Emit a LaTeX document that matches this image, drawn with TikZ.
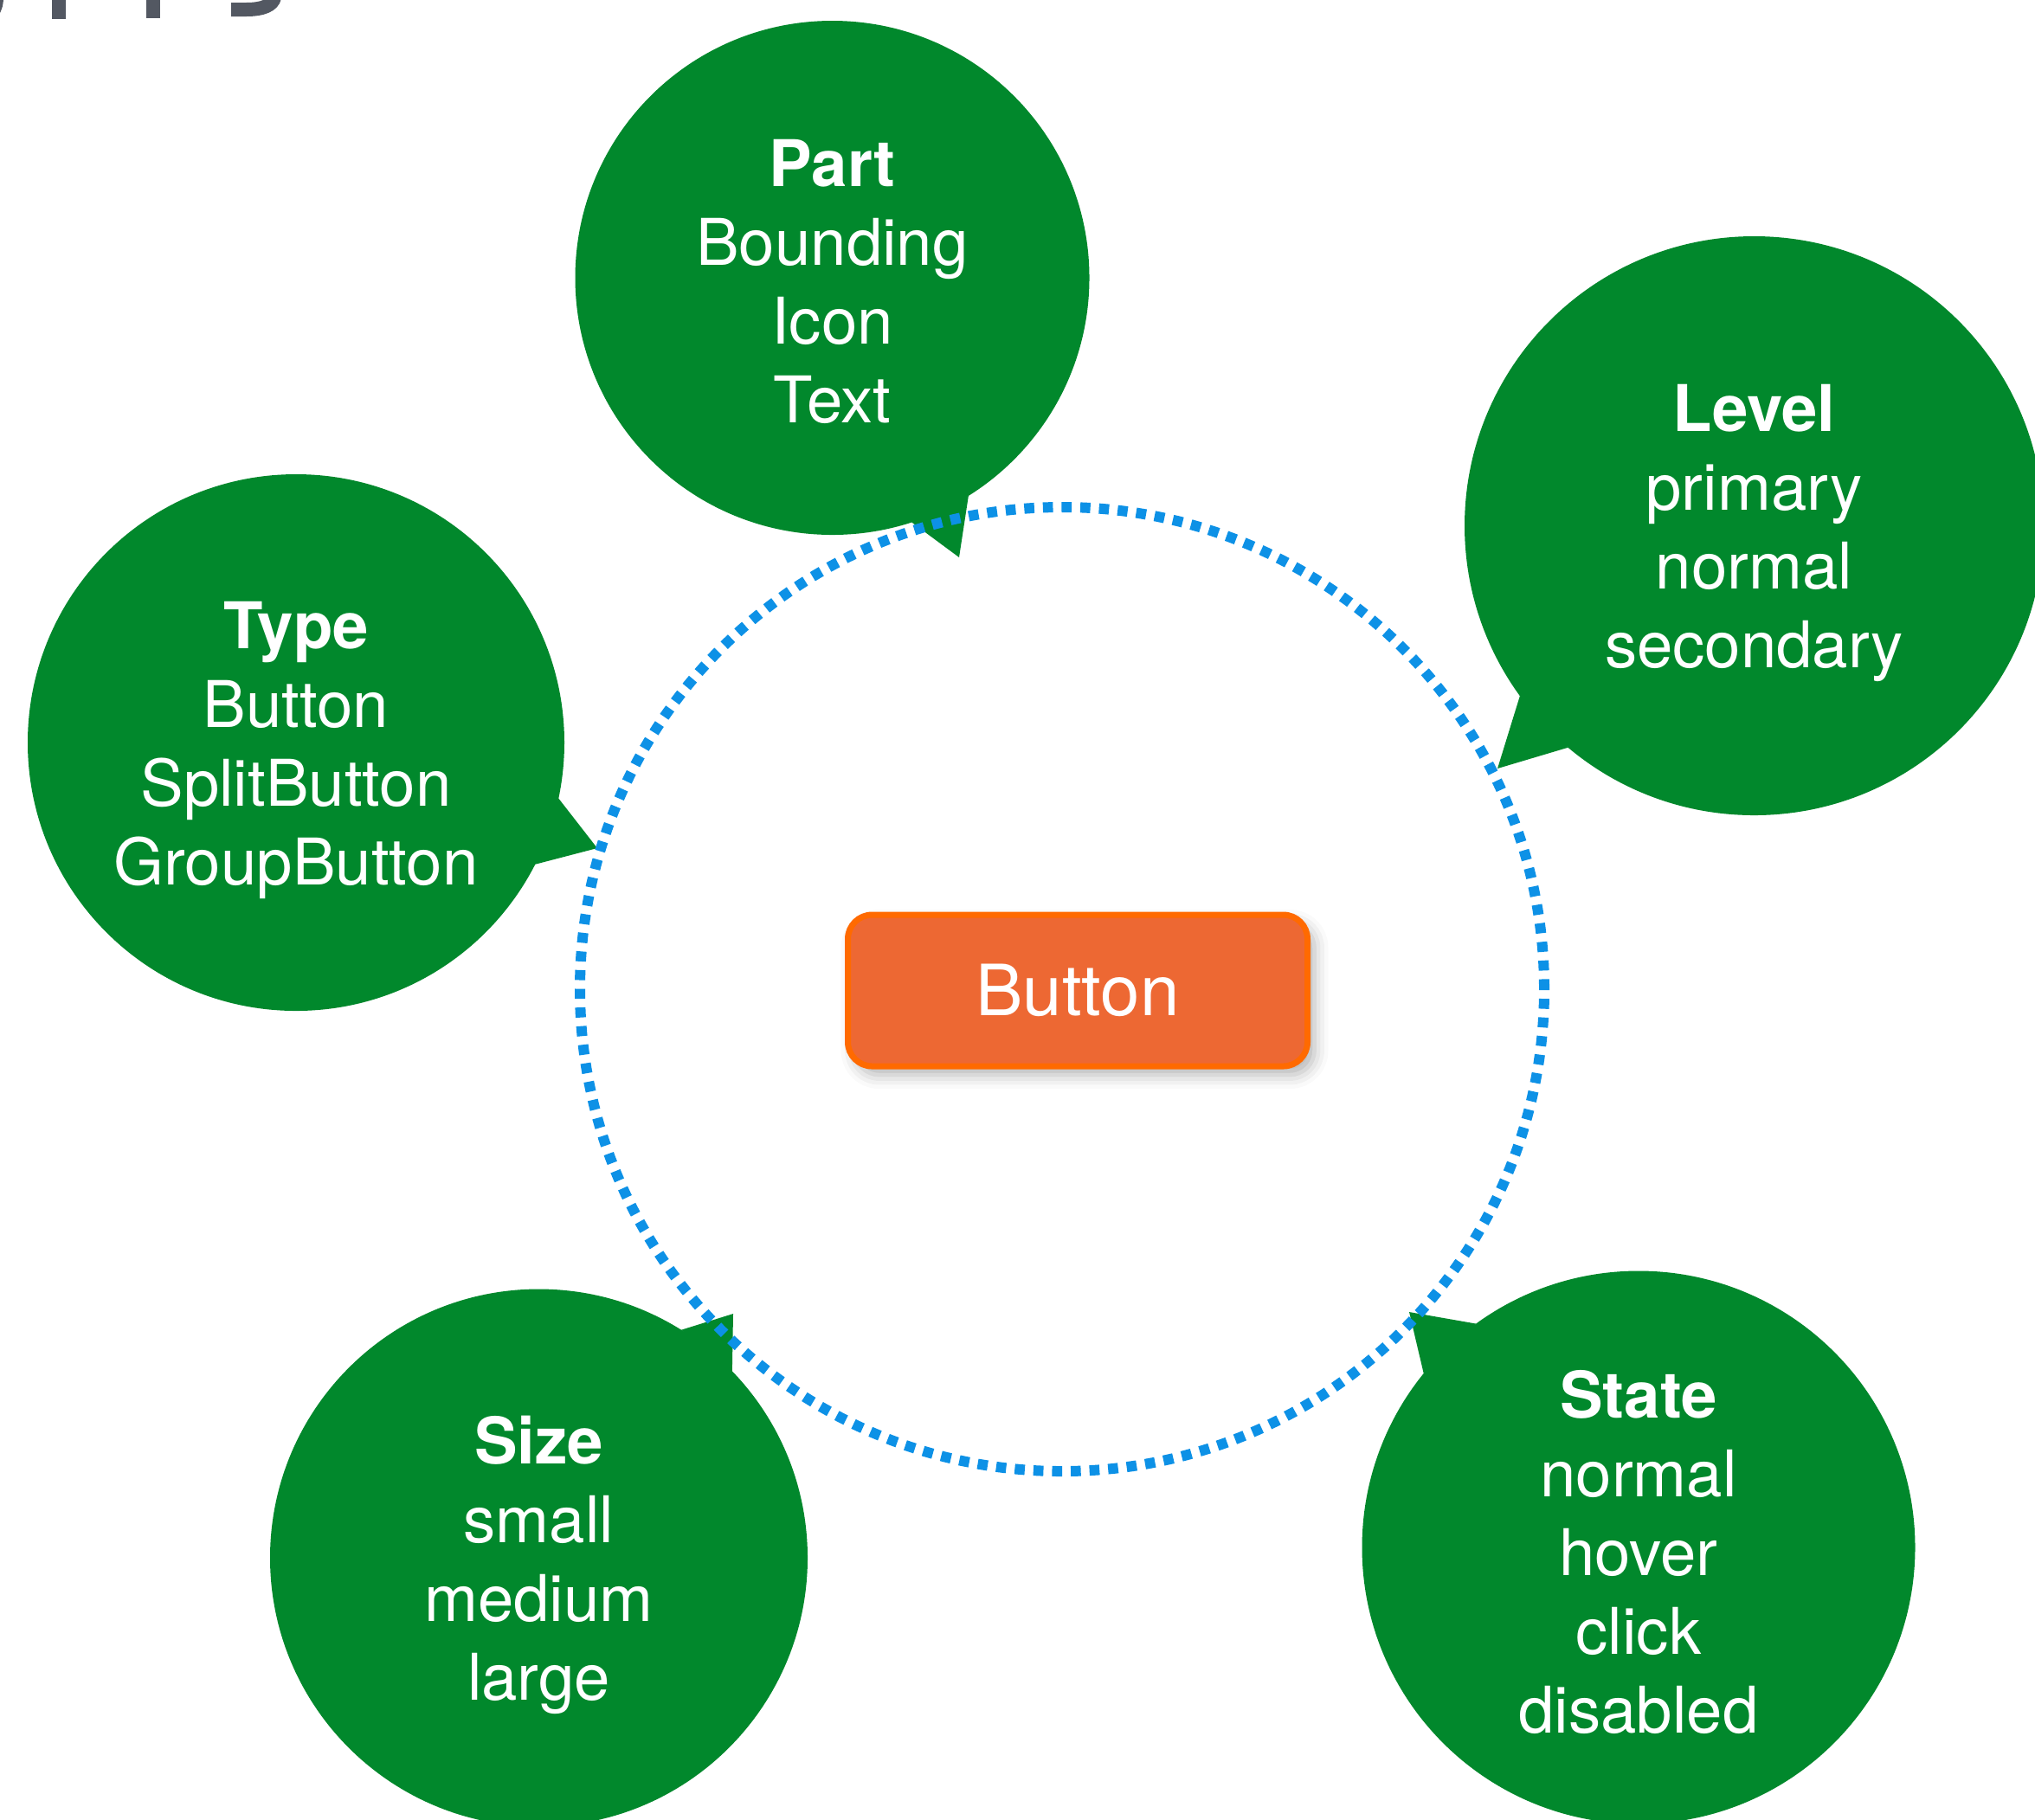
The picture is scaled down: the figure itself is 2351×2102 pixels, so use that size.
\documentclass[tikz,border=0pt]{standalone}
\usepackage{fontspec}
\setmainfont{TeX Gyre Heros}
\usetikzlibrary{calc,shadows.blur}

\definecolor{bubblegreen}{RGB}{1,136,44}
\definecolor{ringblue}{RGB}{13,145,230}
\definecolor{btnfill}{RGB}{237,104,51}
\definecolor{btnedge}{RGB}{255,106,0}
\definecolor{titlegray}{RGB}{83,88,98}

\tikzset{every picture/.style={line width=0.75pt}}
\tikzset{
  bubble/.style={circle, fill=bubblegreen, inner sep=0pt, outer sep=0pt},
  bubbletext/.style={text=white, inner sep=0pt, align=center,
    font=\fontsize{18.6}{22.75}\selectfont},
  tail/.style={fill=bubblegreen},
  ring/.style={circle, draw=ringblue, line width=3pt, dash pattern=on 2.9pt off 2.5pt,
    inner sep=0pt, outer sep=0pt},
  btn/.style={draw=btnedge, fill=btnfill, line width=1.75pt, rounded corners=7pt,
    text=white, font=\fontsize{20.4}{24}\selectfont,
    blur shadow={shadow xshift=2pt, shadow yshift=-2.5pt, shadow blur radius=4pt, shadow opacity=30}},
}

\begin{document}
\begin{tikzpicture}[x=0.25pt,y=0.25pt,yscale=-1,xscale=1]
\useasboundingbox (0,0) rectangle (2351,2102);

% title fragments, cut off by the top edge
\fill[titlegray] (0,0) -- (4,0) .. controls (3,8) .. (0,15) -- cycle;
\fill[titlegray] (60,0) rectangle (76,22);
\fill[titlegray] (169,0) rectangle (185,21);
\draw[titlegray, line width=4pt] (267,11) -- (284,11) .. controls (304,11) and (315,6) .. (317,-3);

% Bubbles
\node[bubble, minimum size=148.5pt] (part) at (961.5,321) {};
\node[bubble, minimum size=167.25pt] (level) at (2026.5,607.5) {};
\node[bubble, minimum size=155pt] (type) at (342,858) {};
\node[bubble, minimum size=155.25pt] (size) at (622.5,1800) {};
\node[bubble, minimum size=159.75pt] (state) at (1893,1788) {};

% tail tips
\coordinate (partTip) at (1108,644);
\coordinate (levelTip) at (1730,888);
\coordinate (typeTip) at (690,980);
\coordinate (sizeTip) at (847,1518);
\coordinate (stateTip) at (1628,1516);

% Tails
\fill[tail] (part.-72.7) -- (partTip) -- (part.-58.2) -- cycle;
\fill[tail] (level.216.1) -- (levelTip) -- (level.230.8) -- cycle;
\fill[tail] (type.-12.8) -- (typeTip) -- (type.-27.3) -- cycle;
\fill[tail] (size.58.1) -- (sizeTip) -- (size.44.9) -- cycle;
\fill[tail] (state.126.9) -- (stateTip) -- (state.141.5) -- cycle;

% Text Nodes
\node[bubbletext] (partText) at ($(part)+(0,4)$) {\textbf{Part}\\Bounding\\Icon\\Text};
\node[bubbletext] (levelText) at ($(level)+(0,8)$) {\textbf{Level}\\primary\\normal\\secondary};
\node[bubbletext] (typeText) at ($(type)+(0,9)$) {\textbf{Type}\\Button\\SplitButton\\GroupButton};
\node[bubbletext] (sizeText) at ($(size)+(0,8)$) {\textbf{Size}\\small\\medium\\large};
\node[bubbletext] (stateText) at ($(state)+(0,5)$) {\textbf{State}\\normal\\hover\\click\\disabled};

% Center button
\node[btn, minimum width=132.75pt, minimum height=43.75pt] (button) at (1245,1144.5) {Button};

% dotted ring
\node[ring, minimum size=278.5pt] (loop) at (1227,1143) {};

\end{tikzpicture}
\end{document}
